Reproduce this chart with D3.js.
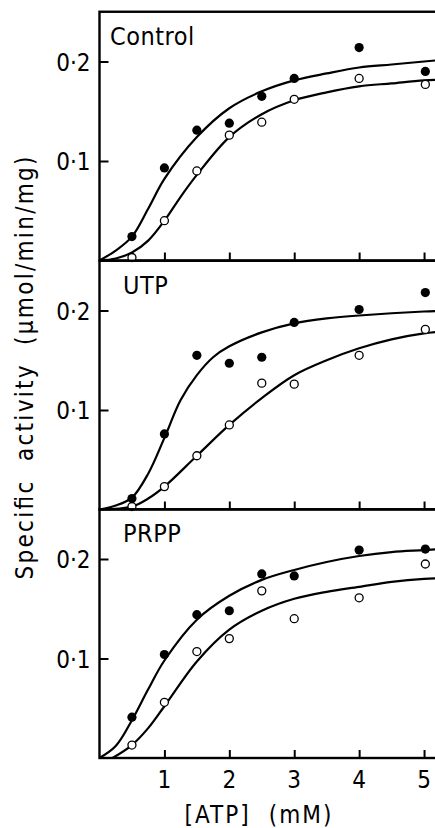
<!DOCTYPE html>
<html>
<head>
<meta charset="utf-8">
<script src="https://cdn.jsdelivr.net/npm/d3@7"></script>
<style>
  body { margin: 0; background: #fff; }
  svg { display: block; }
  text { font-family: "DejaVu Sans Condensed", "DejaVu Sans", sans-serif; fill: #000; }
</style>
</head>
<body>
<div id="chart"></div>
<script>
// ATP concentrations (mM) where activity was measured
var atp = [0.5, 1, 1.5, 2, 2.5, 3, 4, 5.02];

// measured specific activity, filled and open symbols, per panel
var controlFilled = [0.024, 0.093, 0.131, 0.138, 0.165, 0.183, 0.214, 0.190];
var controlOpen   = [0.003, 0.040, 0.090, 0.126, 0.139, 0.162, 0.183, 0.177];
var utpFilled     = [0.011, 0.076, 0.155, 0.147, 0.153, 0.188, 0.201, 0.218];
var utpOpen       = [0.003, 0.023, 0.054, 0.085, 0.127, 0.126, 0.155, 0.181];
var prppFilled    = [0.041, 0.104, 0.144, 0.148, 0.185, 0.183, 0.209, 0.210];
var prppOpen      = [0.013, 0.056, 0.107, 0.120, 0.168, 0.140, 0.161, 0.195];

// fitted curves: [ATP, activity]
var controlFilledCurve = [[0, 0], [0.25, 0.010], [0.5, 0.024], [0.75, 0.052], [1, 0.082], [1.5, 0.124], [2, 0.153], [2.5, 0.170], [3, 0.181], [3.5, 0.188], [4, 0.194], [4.5, 0.197], [5, 0.200], [5.5, 0.203]];
var controlOpenCurve   = [[0, 0], [0.25, 0.002], [0.5, 0.008], [0.75, 0.020], [1, 0.040], [1.25, 0.064], [1.5, 0.086], [2, 0.124], [2.5, 0.147], [3, 0.161], [3.5, 0.169], [4, 0.175], [4.5, 0.178], [5, 0.181], [5.5, 0.182]];
var utpFilledCurve     = [[0, 0], [0.25, 0.004], [0.5, 0.012], [0.75, 0.036], [1, 0.072], [1.25, 0.110], [1.5, 0.135], [1.75, 0.153], [2, 0.164], [2.5, 0.178], [3, 0.187], [3.5, 0.192], [4, 0.195], [5, 0.199], [5.5, 0.200]];
var utpOpenCurve       = [[0, 0], [0.5, 0.003], [0.75, 0.011], [1, 0.023], [1.5, 0.054], [2, 0.085], [2.5, 0.112], [3, 0.135], [3.5, 0.150], [4, 0.162], [4.5, 0.171], [5, 0.177], [5.5, 0.180]];
var prppFilledCurve    = [[0, 0], [0.25, 0.012], [0.5, 0.038], [0.75, 0.069], [1, 0.098], [1.5, 0.139], [2, 0.163], [2.5, 0.179], [3, 0.189], [3.5, 0.197], [4, 0.203], [4.5, 0.207], [5, 0.209], [5.5, 0.211]];
var prppOpenCurve      = [[0.2, 0], [0.5, 0.013], [0.75, 0.030], [1, 0.052], [1.5, 0.097], [2, 0.129], [2.5, 0.148], [3, 0.160], [3.5, 0.167], [4, 0.172], [4.5, 0.177], [5, 0.180], [5.5, 0.181]];

var panelNames = ["Control", "UTP", "PRPP"];
var xTicks = [1, 2, 3, 4, 5];
var yTicks = [0.1, 0.2];
var yTickLabels = ["0\u00b71", "0\u00b72"];

var panels = [
  { name: panelNames[0], filled: controlFilled, open: controlOpen, fc: controlFilledCurve, oc: controlOpenCurve },
  { name: panelNames[1], filled: utpFilled, open: utpOpen, fc: utpFilledCurve, oc: utpOpenCurve },
  { name: panelNames[2], filled: prppFilled, open: prppOpen, fc: prppFilledCurve, oc: prppOpenCurve }
];

var svgWidth = 435;
var svgHeight = 828;
var left = 99.5;
var right = 456.5;
var bottoms = [260.5, 509.5, 758];
var panelHeight = 248.75;

var svg = d3.select("#chart")
  .append("svg")
  .attr("width", svgWidth)
  .attr("height", svgHeight);

var xScale = d3.scaleLinear()
  .domain([0, 5.5])
  .range([left, right]);

panels.forEach(function(p, i) {
  var bottom = bottoms[i];
  var yScale = d3.scaleLinear()
    .domain([0, 0.25])
    .range([bottom, bottom - panelHeight]);

  var g = svg.append("g");

  // frame
  g.append("rect")
    .attr("x", left)
    .attr("y", yScale(0.25))
    .attr("width", right - left)
    .attr("height", panelHeight)
    .attr("fill", "none")
    .attr("stroke", "#000")
    .attr("stroke-width", 2.4);

  // inward ticks
  var xAxis = d3.axisTop(xScale).tickValues(xTicks).tickSize(8).tickFormat("");
  g.append("g")
    .attr("transform", `translate(0, ${bottom})`)
    .call(xAxis)
    .call(a => a.select(".domain").remove())
    .call(a => a.selectAll("line").attr("stroke-width", 2));

  var yAxis = d3.axisRight(yScale).tickValues(yTicks).tickSize(9).tickFormat("");
  g.append("g")
    .attr("transform", `translate(${left}, 0)`)
    .call(yAxis)
    .call(a => a.select(".domain").remove())
    .call(a => a.selectAll("line").attr("stroke-width", 2));

  // y tick labels
  g.selectAll(".ylab")
    .data(yTicks)
    .enter()
    .append("text")
    .attr("x", left - 9)
    .attr("y", d => yScale(d) + 9)
    .attr("text-anchor", "end")
    .attr("font-size", 24)
    .text((d, j) => yTickLabels[j]);

  // panel label
  g.append("text")
    .attr("x", i == 0 ? 110 : 123)
    .attr("y", yScale(0.25) + 33)
    .attr("font-size", 25)
    .attr("letter-spacing", 0.5)
    .text(p.name);

  // curves
  var line = d3.line()
    .x(d => xScale(d[0]))
    .y(d => yScale(d[1]))
    .curve(d3.curveCatmullRom);

  [p.fc, p.oc].forEach(function(c) {
    g.append("path")
      .datum(c)
      .attr("d", line)
      .attr("fill", "none")
      .attr("stroke", "#000")
      .attr("stroke-width", 2.2);
  });

  // open circles
  g.selectAll(".open")
    .data(p.open)
    .enter()
    .append("circle")
    .attr("cx", (d, j) => xScale(atp[j]))
    .attr("cy", d => yScale(d))
    .attr("r", 4)
    .attr("fill", "#fff")
    .attr("stroke", "#000")
    .attr("stroke-width", 1.3);

  // filled circles
  g.selectAll(".filled")
    .data(p.filled)
    .enter()
    .append("circle")
    .attr("cx", (d, j) => xScale(atp[j]))
    .attr("cy", d => yScale(d))
    .attr("r", 4.6)
    .attr("fill", "#000");
});

// x tick labels, bottom panel only
svg.selectAll(".xlab")
  .data(xTicks)
  .enter()
  .append("text")
  .attr("x", d => xScale(d))
  .attr("y", 788)
  .attr("text-anchor", "middle")
  .attr("font-size", 24)
  .text(d => d);

// axis titles
svg.append("text")
  .attr("x", 258)
  .attr("y", 823)
  .attr("text-anchor", "middle")
  .attr("font-size", 24)
  .attr("textLength", 147)
  .attr("lengthAdjust", "spacing")
  .style("white-space", "pre")
  .text("[ATP]  (mM)");

svg.append("text")
  .attr("transform", "translate(33, 368) rotate(-90)")
  .attr("text-anchor", "middle")
  .attr("font-size", 24)
  .attr("textLength", 423)
  .attr("lengthAdjust", "spacing")
  .style("white-space", "pre")
  .text("Specific  activity  (\u03bcmol/min/mg)");
</script>
</body>
</html>
